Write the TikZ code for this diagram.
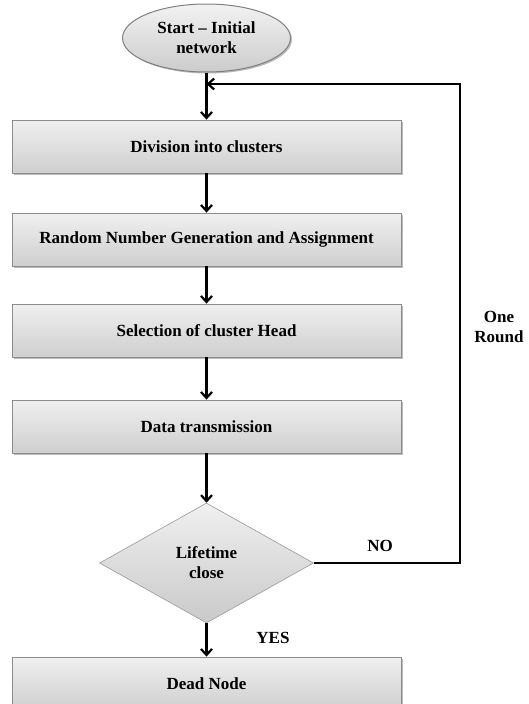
\documentclass[tikz,border=0pt]{standalone}
\usepackage{fontspec}
\setmainfont{Liberation Serif}
\usetikzlibrary{shapes.geometric,shadows,arrows.meta}
\tikzset{
  txt/.style={font=\fontsize{17}{20}\selectfont\bfseries},
  stepbox/.style={txt, draw=black!45, line width=0.8pt, top color=gray!12, bottom color=gray!38,
    minimum width=389pt, minimum height=53pt, inner sep=0pt,
    drop shadow={shadow xshift=1.5pt, shadow yshift=-1.5pt, opacity=0.45, fill=black!60}},
  startnode/.style={txt, ellipse, draw=black!50, line width=1pt, top color=gray!10, bottom color=gray!40,
    minimum width=168pt, minimum height=68pt, inner sep=0pt, align=center,
    drop shadow={shadow xshift=1.5pt, shadow yshift=-1.5pt, opacity=0.45, fill=black!60}},
  decnode/.style={txt, diamond, draw=black!40, line width=0.6pt, top color=gray!12, bottom color=gray!42,
    minimum width=214pt, minimum height=120pt, aspect=1.78, inner sep=0pt, align=center},
  lbl/.style={txt, align=center, inner sep=0pt},
  flow/.style={line width=2.4pt, -{Straight Barb[length=6pt,width=11pt,line width=2.2pt]}}
}
\begin{document}
\begin{tikzpicture}[x=1pt,y=-1pt]
\useasboundingbox (0,0) rectangle (529,704);
\clip (0,0) rectangle (529,704);
\node[startnode] (start) at (206.5,38) {Start – Initial\\network};
\node[stepbox] (b1) at (206.5,146.5) {Division into clusters};
\node[stepbox] (b2) at (206.5,239.5) {Random Number Generation and Assignment};
\node[stepbox] (b3) at (206.5,330.5) {Selection of cluster Head};
\node[stepbox] (b4) at (206.5,426.5) {Data transmission};
\node[decnode] (dec) at (206.5,563) {Lifetime\\close};
\node[stepbox] (b5) at (206.5,683.5) {Dead Node};
\coordinate (j) at (206.5,84);
\coordinate (r) at (460,84);
\draw[flow] (start.south) -- (b1.north);
\draw[flow] (b1) -- (b2);
\draw[flow] (b2) -- (b3);
\draw[flow] (b3) -- (b4);
\draw[flow] (b4) -- (dec.north);
\draw[flow] (dec.south) -- (b5.north);
\draw[flow] (dec.east) -| (r) -- (j);
\node[lbl] (no) at (380,546) {NO};
\node[lbl] (yes) at (273,638) {YES};
\node[lbl] (round) at (499,327) {One\\Round};
\end{tikzpicture}
\end{document}
